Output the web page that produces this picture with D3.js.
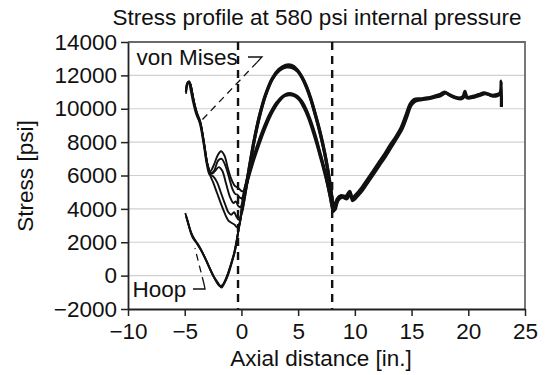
<!DOCTYPE html>
<html>
<head>
<meta charset="utf-8">
<script src="https://cdn.jsdelivr.net/npm/d3@7"></script>
<style>
  html, body { margin: 0; padding: 0; background: #fff; }
  svg { display: block; font-family: "Liberation Sans", Arial, Helvetica, sans-serif; }
</style>
</head>
<body>
<svg id="chart" width="546" height="375"></svg>
<script>
// ---- data ----
const titleText = "Stress profile at 580 psi internal pressure";
const xLabel = "Axial distance [in.]";
const yLabel = "Stress [psi]";
const xTicks = [-10, -5, 0, 5, 10, 15, 20, 25];
const yTicks = [-2000, 0, 2000, 4000, 6000, 8000, 10000, 12000, 14000];
const refLines = [-0.3, 8.0];

// Hoop stress traces, left part (x < 0)
const hoopLeftA = [[-4.95,3750],[-4.75,3300],[-4.5,2700],[-4.3,2300],[-4.0,2000],[-3.7,1700],[-3.3,1200],[-2.9,600],[-2.5,0],[-2.1,-450],[-1.85,-650],[-1.6,-550],[-1.3,-100],[-1.0,500],[-0.7,1200],[-0.4,2200],[-0.2,3000],[0.05,3900]];
const hoopLeftB = [[-4.9,3600],[-4.7,3150],[-4.45,2550],[-4.2,2200],[-3.9,1950],[-3.6,1600],[-3.2,1050],[-2.8,450],[-2.4,-100],[-2.0,-500],[-1.75,-720],[-1.5,-450],[-1.2,0],[-0.9,650],[-0.6,1400],[-0.35,2350],[-0.15,3150],[0.05,3900]];
const hoopLeftC = [[-4.85,3500],[-4.6,2900],[-4.35,2450],[-4.1,2150],[-3.8,1800],[-3.5,1450],[-3.1,900],[-2.7,300],[-2.3,-250],[-1.95,-600],[-1.7,-580],[-1.45,-300],[-1.15,200],[-0.85,850],[-0.55,1550],[-0.3,2550],[-0.1,3300],[0.05,3900]];

// Hoop stress, main bundle
const hoopMainA = [[0.0,3750],[0.35,5100],[0.75,6700],[1.15,8200],[1.6,9600],[2.1,10800],[2.7,11800],[3.3,12350],[3.9,12600],[4.4,12600],[4.9,12350],[5.3,11950],[5.7,11400],[6.1,10650],[6.5,9700],[6.9,8700],[7.3,7500],[7.6,6400],[7.85,5300],[8.05,4400],[8.2,4150],[8.45,4600],[8.8,4800],[9.2,4750],[9.55,5050],[9.75,4650],[10.1,4850],[10.6,5250],[11.1,5750],[11.6,6250],[12.1,6750],[12.6,7250],[13.1,7800],[13.6,8300],[14.1,8900],[14.5,9600],[14.85,10250],[15.2,10550],[15.8,10600],[16.4,10650],[17.0,10750],[17.5,10850],[17.9,11000],[18.3,10850],[18.8,10700],[19.3,10650],[19.55,10750],[19.7,11050],[19.85,10700],[20.4,10750],[20.9,10850],[21.4,10950],[21.7,10900],[22.1,10800],[22.5,10850],[22.8,10950],[22.9,11650],[22.92,10100]];
const hoopMainB = [[0.05,3900],[0.4,5250],[0.8,6850],[1.2,8350],[1.65,9700],[2.15,10850],[2.75,11800],[3.35,12300],[3.95,12500],[4.45,12480],[4.95,12250],[5.35,11850],[5.75,11250],[6.15,10500],[6.55,9550],[6.95,8500],[7.35,7300],[7.65,6200],[7.9,5100],[8.08,4250],[8.25,3950],[8.5,4500],[8.9,4700],[9.3,4600],[9.6,4950],[9.8,4500],[10.2,4750],[10.7,5150],[11.2,5650],[11.7,6150],[12.2,6650],[12.7,7150],[13.2,7700],[13.7,8250],[14.2,8850],[14.6,9550],[14.95,10200],[15.3,10450],[15.9,10550],[16.5,10600],[17.1,10700],[17.6,10800],[18.0,10950],[18.4,10800],[18.9,10650],[19.4,10600],[19.6,10700],[19.75,10950],[19.9,10650],[20.5,10700],[21.0,10800],[21.5,10900],[21.8,10850],[22.2,10750],[22.6,10800],[22.85,10900]];

// von Mises stress traces, left part
const vmLeft1 = [[-4.88,10900],[-4.78,11450],[-4.62,11650],[-4.45,11350],[-4.25,10600],[-3.95,9800],[-3.65,9300],[-3.3,8000],[-3.0,6700],[-2.75,6250],[-2.45,6600],[-2.1,7200],[-1.8,7450],[-1.5,7200],[-1.2,6450],[-0.9,5800],[-0.6,5400],[-0.4,5300],[-0.2,5200],[0.05,5050],[0.3,5150]];
const vmLeft2 = [[-4.85,11100],[-4.72,11550],[-4.55,11550],[-4.35,11000],[-4.1,10200],[-3.85,9600],[-3.6,9100],[-3.3,7900],[-3.0,6650],[-2.7,6150],[-2.4,6300],[-2.05,6900],[-1.75,7000],[-1.45,6650],[-1.1,5900],[-0.8,5200],[-0.55,4900],[-0.35,4850],[-0.1,4650],[0.15,4700],[0.3,5150]];
const vmLeft3 = [[-4.8,11300],[-4.68,11600],[-4.5,11450],[-4.3,10800],[-4.05,10000],[-3.8,9450],[-3.55,8900],[-3.25,7700],[-2.95,6550],[-2.65,6100],[-2.35,6250],[-2.0,6500],[-1.7,6300],[-1.35,5500],[-1.0,4700],[-0.7,4350],[-0.5,4450],[-0.3,4200],[-0.1,4100],[0.1,4500]];
const vmLeft4 = [[-4.9,11000],[-4.8,11500],[-4.65,11600],[-4.5,11200],[-4.28,10450],[-4.0,9700],[-3.7,9200],[-3.35,7950],[-3.05,6650],[-2.8,6050],[-2.5,5950],[-2.15,5600],[-1.8,4950],[-1.45,4300],[-1.15,3800],[-0.9,3650],[-0.65,3800],[-0.45,3550],[-0.25,3350],[0.0,3750]];
const vmLeft5 = [[-4.86,11200],[-4.75,11550],[-4.58,11600],[-4.4,11150],[-4.18,10350],[-3.92,9650],[-3.62,9150],[-3.28,7850],[-2.98,6600],[-2.75,6000],[-2.5,5600],[-2.15,4950],[-1.8,4300],[-1.45,3700],[-1.15,3300],[-0.85,3150],[-0.6,3050],[-0.4,2900],[-0.2,3050],[0.0,3750]];

// von Mises stress, main bundle
const vmMainA = [[0.3,5150],[0.7,6100],[1.1,7000],[1.6,8000],[2.1,8900],[2.7,9800],[3.3,10450],[3.9,10850],[4.4,10900],[4.9,10750],[5.3,10450],[5.7,9950],[6.1,9250],[6.5,8400],[6.9,7400],[7.3,6400],[7.6,5500],[7.85,4700],[8.05,4050],[8.2,3950],[8.4,4450],[8.7,4750]];
const vmMainB = [[0.1,4500],[0.5,5700],[0.9,6700],[1.4,7750],[1.9,8700],[2.5,9650],[3.1,10350],[3.7,10750],[4.2,10850],[4.7,10780],[5.1,10550],[5.5,10100],[5.9,9500],[6.3,8700],[6.7,7800],[7.1,6800],[7.45,5900],[7.75,5000],[7.95,4300],[8.1,3850],[8.3,4200],[8.6,4700]];

// annotation anchors (data coordinates)
const vmLabel = { text: "von Mises", x: -9.25, y: 12620 };
const vmLeaderSolid = [[0.58,13100],[1.81,13100],[1.37,12780]];
const vmLeaderDash = [[1.37,12780],[-3.65,9200]];
const hoopLabel = { text: "Hoop", x: -9.6, y: -1310 };
const hoopLeaderSolid = [[-4.27,-800],[-3.21,-800],[-3.3,-500]];
const hoopLeaderDash = [[-3.3,-500],[-4.1,1650]];

// ---- drawing ----
const svg = d3.select("#chart");
const x = d3.scaleLinear().domain([-10, 25]).range([128, 525]);
const y = d3.scaleLinear().domain([-2000, 14000]).range([309, 42]);
const fmt = d => d < 0 ? "\u2212" + Math.abs(d) : String(d);

// gridlines
svg.append("g").selectAll("line")
  .data(yTicks.filter(d => d > -2000 && d < 14000))
  .join("line")
  .attr("x1", x(-10)).attr("x2", x(25))
  .attr("y1", d => y(d)).attr("y2", d => y(d))
  .attr("stroke", "#d0d0d0").attr("stroke-width", 1.2);

// frame top/right
svg.append("path")
  .attr("d", `M${x(-10)},${y(14000)}H${x(25)}V${y(-2000)}`)
  .attr("fill", "none").attr("stroke", "#6a6a6a").attr("stroke-width", 1.8);

// reference dashed lines
svg.append("g").selectAll("line")
  .data(refLines).join("line")
  .attr("x1", d => x(d)).attr("x2", d => x(d))
  .attr("y1", y(14000)).attr("y2", y(-2000))
  .attr("stroke", "#111").attr("stroke-width", 2.4)
  .attr("stroke-dasharray", "8,6");

const line = d3.line().x(d => x(d[0])).y(d => y(d[1])).curve(d3.curveCatmullRom.alpha(0.5));

const thin = [hoopLeftA, hoopLeftB, hoopLeftC, vmLeft1, vmLeft2, vmLeft3, vmLeft4, vmLeft5];
svg.append("g").selectAll("path").data(thin).join("path")
  .attr("d", line).attr("fill", "none").attr("stroke", "#111")
  .attr("stroke-width", 1.9).attr("stroke-linejoin", "round");

const thick = [hoopMainA, hoopMainB, vmMainA, vmMainB];
svg.append("g").selectAll("path").data(thick).join("path")
  .attr("d", line).attr("fill", "none").attr("stroke", "#111")
  .attr("stroke-width", 3.2).attr("stroke-linejoin", "round");

// axes
const xAxis = svg.append("g").attr("transform", `translate(0,${y(-2000)})`)
  .call(d3.axisBottom(x).tickValues(xTicks).tickFormat(fmt).tickSize(7).tickSizeOuter(0));
const yAxis = svg.append("g").attr("transform", `translate(${x(-10)},0)`)
  .call(d3.axisLeft(y).tickValues(yTicks).tickFormat(fmt).tickSize(7).tickSizeOuter(0));
[xAxis, yAxis].forEach(g => {
  g.select(".domain").attr("stroke", "#222").attr("stroke-width", 1.8);
  g.selectAll(".tick line").attr("stroke", "#222").attr("stroke-width", 1.5);
  g.selectAll("text").attr("fill", "#111").style("font-size", "22.5px")
   .style("font-family", '"Liberation Sans", Arial, sans-serif');
});
xAxis.selectAll("text").attr("y", 14).attr("dy", "0.71em");
yAxis.selectAll("text").attr("x", -11);

// title & labels
svg.append("text").attr("x", 317).attr("y", 25).attr("text-anchor", "middle")
  .style("font-size", "22.5px").attr("fill", "#111").text(titleText);
svg.append("text").attr("x", 321).attr("y", 366).attr("text-anchor", "middle")
  .style("font-size", "22.5px").attr("fill", "#111").text(xLabel);
svg.append("text").attr("transform", `translate(33,176) rotate(-90)`).attr("text-anchor", "middle")
  .style("font-size", "22.5px").attr("fill", "#111").text(yLabel);

// annotations
svg.append("text").attr("x", x(vmLabel.x)).attr("y", y(vmLabel.y))
  .style("font-size", "22.5px").attr("fill", "#111").text(vmLabel.text);
svg.append("text").attr("x", x(hoopLabel.x)).attr("y", y(hoopLabel.y))
  .style("font-size", "22.5px").attr("fill", "#111").text(hoopLabel.text);
const straight = d3.line().x(d => x(d[0])).y(d => y(d[1]));
[vmLeaderSolid, hoopLeaderSolid].forEach(p => svg.append("path").attr("d", straight(p))
  .attr("fill", "none").attr("stroke", "#111").attr("stroke-width", 1.3));
[vmLeaderDash, hoopLeaderDash].forEach(p => svg.append("path").attr("d", straight(p))
  .attr("fill", "none").attr("stroke", "#111").attr("stroke-width", 1.3).attr("stroke-dasharray", "7,5"));
</script>
</body>
</html>
